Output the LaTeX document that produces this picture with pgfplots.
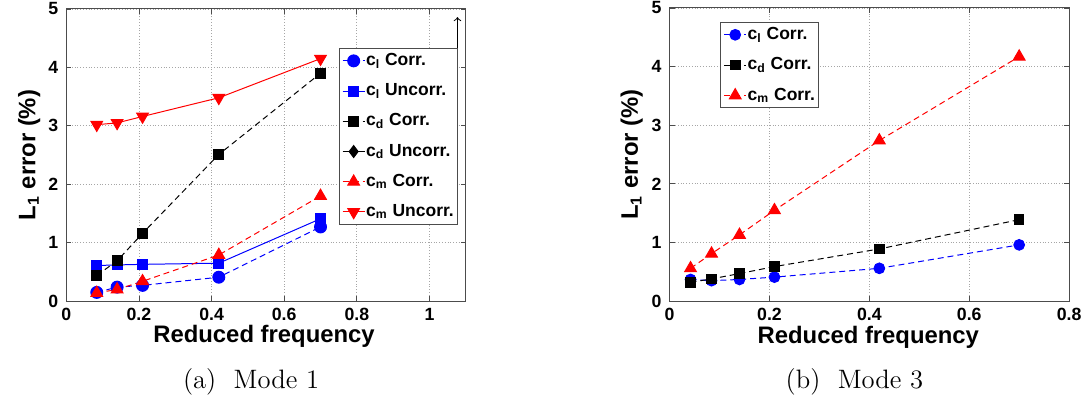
\documentclass[border=0pt]{standalone}
\usepackage{fontspec}
\setsansfont{Liberation Sans}
\usepackage{pgfplots}
\pgfplotsset{compat=1.18}
\begin{document}
\pgfplotsset{
  mstyle/.style={
    scale only axis,
    width=201pt, height=147pt,
    ymin=0, ymax=5, ytick={0,1,2,3,4,5},
    /pgf/number format/assume math mode=true,
    tick label style={font=\sffamily\bfseries\fontsize{8.9}{10}\selectfont},
    xlabel={Reduced frequency},
    ylabel={L\textsubscript{1} error (\%)},
    every axis y label/.style={at={(axis description cs:-0.093,0.5)},rotate=90,anchor=center,font=\sffamily\bfseries\fontsize{12}{13}\selectfont},
    every axis x label/.style={at={(axis description cs:0.495,-0.122)},anchor=center,font=\sffamily\bfseries\fontsize{12}{13}\selectfont},
    grid=major,
    major grid style={densely dotted, gray!70, line width=0.4pt},
    axis line style={black!70, line width=0.5pt},
    tick align=inside, major tick length=2.5pt,
    tick style={black!70, line width=0.4pt},
    xticklabel style={yshift=0pt},
    yticklabel style={xshift=-0.5pt},
    legend cell align=left,
    legend style={draw=black!70, line width=0.5pt, fill=white,
      font=\sffamily\bfseries\fontsize{8.8}{10}\selectfont,
      inner sep=1.5pt, row sep=5.6pt,
      nodes={inner xsep=0.5pt, inner ysep=1pt}},
    legend image code/.code={\draw[mark repeat=2,mark phase=2] plot coordinates {(0pt,0pt) (5.5pt,0pt) (11pt,0pt)};},
    every axis plot/.append style={line width=0.5pt},
  },
  dsh/.style={dash pattern=on 3pt off 2pt},
}
\begin{tikzpicture}
\path[use as bounding box] (0,0) rectangle (544.5pt,201pt);
\begin{axis}[mstyle, at={(30pt,49.5pt)}, anchor=south west,
  xmin=0, xmax=1.1, xtick={0,0.2,0.4,0.6,0.8,1},
  legend style={at={(rel axis cs:0.682,0.867)}, anchor=north west}]
\addplot[blue, dsh, mark=*, mark size=3pt, mark options={solid}] coordinates {
 (0.084,0.15) (0.14,0.24) (0.21,0.27) (0.42,0.41) (0.7,1.27)};
\addlegendentry{c\textsubscript{l} Corr.}
\addplot[blue, solid, mark=square*, mark size=2.5pt] coordinates {
 (0.084,0.61) (0.14,0.62) (0.21,0.63) (0.42,0.65) (0.7,1.41)};
\addlegendentry{c\textsubscript{l} Uncorr.}
\addplot[black, dsh, mark=square*, mark size=2.5pt, mark options={solid}] coordinates {
 (0.084,0.44) (0.14,0.69) (0.21,1.16) (0.42,2.51) (0.7,3.90)};
\addlegendentry{c\textsubscript{d} Corr.}
\addlegendimage{black, solid, mark=diamond*, mark size=3pt, line width=0.5pt}
\addlegendentry{c\textsubscript{d} Uncorr.}
\addplot[red, dsh, mark=triangle*, mark size=3.4pt, mark options={solid}] coordinates {
 (0.084,0.14) (0.14,0.20) (0.21,0.34) (0.42,0.79) (0.7,1.80)};
\addlegendentry{c\textsubscript{m} Corr.}
\addplot[red, solid, mark=triangle*, mark size=3.4pt, mark options={rotate=180}] coordinates {
 (0.084,3.02) (0.14,3.05) (0.21,3.16) (0.42,3.48) (0.7,4.15)};
\addlegendentry{c\textsubscript{m} Uncorr.}
\draw[black, line width=0.5pt, ->] (axis cs:1.058,2.57) -- (axis cs:1.077,2.57) -- (axis cs:1.077,4.86);
\end{axis}
\begin{axis}[mstyle, at={(333.5pt,49.5pt)}, anchor=south west, height=147.5pt,
  xmin=0, xmax=0.8, xtick={0,0.2,0.4,0.6,0.8},
  every axis y label/.append style={at={(axis description cs:-0.0945,0.5)}},
  every axis x label/.append style={at={(axis description cs:0.4975,-0.122)}},
  legend style={at={(rel axis cs:0.127,0.953)}, anchor=north west}]
\addplot[blue, dsh, mark=*, mark size=2.7pt, mark options={solid}] coordinates {
 (0.042,0.37) (0.084,0.35) (0.14,0.37) (0.21,0.41) (0.42,0.56) (0.7,0.96)};
\addlegendentry{c\textsubscript{l} Corr.}
\addplot[black, dsh, mark=square*, mark size=2.4pt, mark options={solid}] coordinates {
 (0.042,0.32) (0.084,0.38) (0.14,0.47) (0.21,0.59) (0.42,0.89) (0.7,1.39)};
\addlegendentry{c\textsubscript{d} Corr.}
\addplot[red, dsh, mark=triangle*, mark size=3.4pt, mark options={solid}] coordinates {
 (0.042,0.56) (0.084,0.81) (0.14,1.13) (0.21,1.55) (0.42,2.74) (0.7,4.17)};
\addlegendentry{c\textsubscript{m} Corr.}
\end{axis}
\node[font=\fontsize{13.4}{15}\selectfont] at (123pt,9pt) {(a)\ \ Mode 1};
\node[font=\fontsize{13.4}{15}\selectfont] at (426.5pt,9pt) {(b)\ \ Mode 3};
\end{tikzpicture}
\end{document}
